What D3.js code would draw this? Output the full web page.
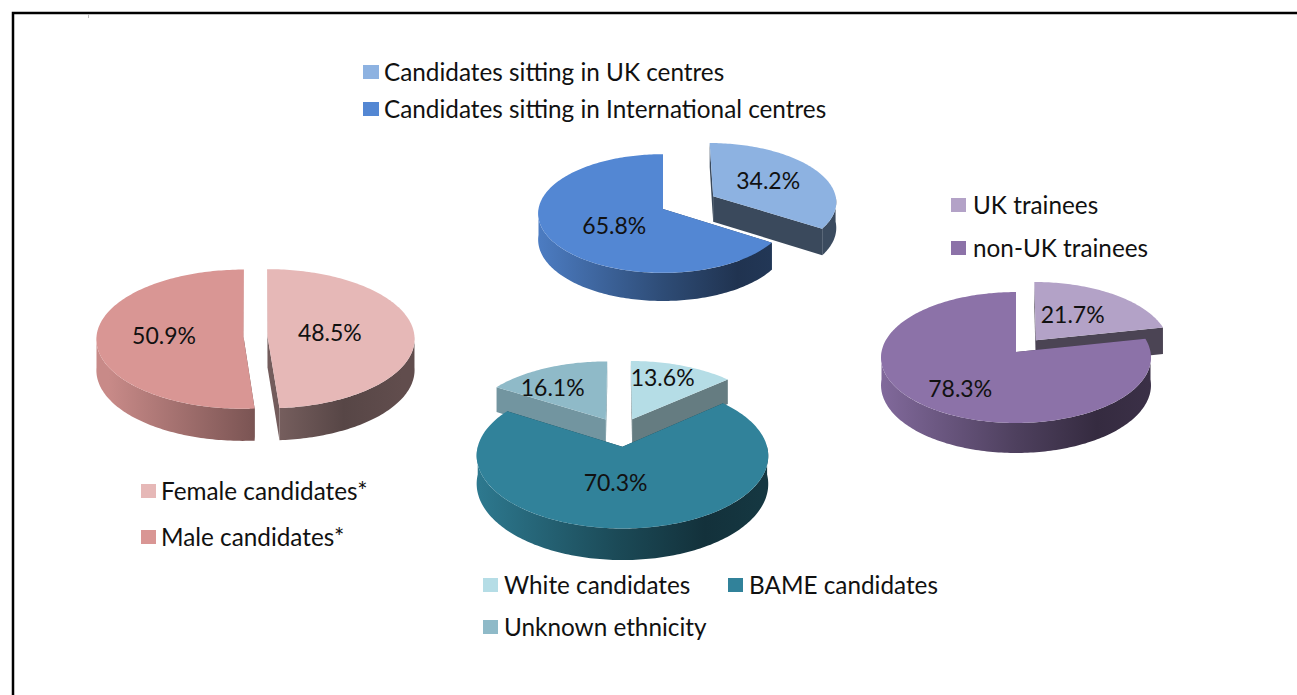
<!DOCTYPE html>
<head>
<style>
  body { margin: 0; background: #fff; overflow: hidden; }
  text { font-family: Lato, sans-serif; fill: #111; }
</style>
</head>
<body>
<svg width="1297" height="695"></svg>
<script src="https://d3js.org/d3.v7.min.js"></script>
<script>

// values
var genderNames = ["Female candidates*", "Male candidates*"],
    genderValues = [48.5, 50.9];
var centreNames = ["Candidates sitting in UK centres", "Candidates sitting in International centres"],
    centreValues = [34.2, 65.8];
var trainingNames = ["UK trainees", "non-UK trainees"],
    trainingValues = [21.7, 78.3];
var ethnicityNames = ["White candidates", "BAME candidates", "Unknown ethnicity"],
    ethnicityValues = [13.6, 70.3, 16.1];

// layout and styling of each pie. k is the perspective strength, explode pulls a slice out
var pies = [
  { id: "gender", names: genderNames, values: genderValues,
    cx: 255.5, cy: 336.5, rx: 147, ry: 69.5, k: 0.035, depth: 31,
    explode: [12, 12], colors: ["#e6b8b7", "#d99694"], wallShade: [0.5, 0.5],
    nudge: [[-11, -2], [-6, -2]], swatch: 15, textX: 20,
    legend: [[141, 491], [141, 537]] },
  { id: "centre", names: centreNames, values: centreValues,
    cx: 663, cy: 209, rx: 124.5, ry: 59, k: 0.076, depth: 26,
    explode: [58, 0], colors: ["#8db2e1", "#5387d3"], wallShade: [0.41, 0.5],
    nudge: [[3, -2], [7, 3]], swatch: 16, textX: 21,
    legend: [[363, 72], [363, 109]] },
  { id: "training", names: trainingNames, values: trainingValues,
    cx: 1016, cy: 352, rx: 134.5, ry: 65, k: 0.084, depth: 27.5,
    explode: [32, 0], colors: ["#b3a2c7", "#8c72a8"], wallShade: [0.42, 0.5],
    nudge: [[-3, -2], [-12, 11]], swatch: 15, textX: 22,
    legend: [[951, 205], [951, 248]] },
  { id: "ethnicity", names: ethnicityNames, values: ethnicityValues,
    cx: 620, cy: 432, rx: 141, ry: 68, k: 0.12, depth: 27,
    explode: [30, 30, 30], colors: ["#b5dde6", "#31829a", "#8fbac8"], wallShade: [0.56, 0.5, 0.8],
    nudge: [[4, -13], [-13, -2], [-22, -5]], swatch: 15, textX: 21,
    legend: [[483, 585], [728, 585], [483, 627]] }
];

var svg = d3.select("svg"),
    defs = svg.append("defs");

// frame of the pasted picture, runs off the right and bottom
svg.append("rect")
    .attr("x", 13).attr("y", 13)
    .attr("width", 1400).attr("height", 800)
    .attr("fill", "none")
    .attr("stroke", "#000")
    .attr("stroke-width", 2.5);
svg.append("line")
    .attr("x1", 88.5).attr("x2", 88.5)
    .attr("y1", 14).attr("y2", 18)
    .attr("stroke", "#bbb");

var pieLayout = d3.pie().sort(null).value(function(d) { return d; });
var polyline = d3.line();

// how dark the outer wall gets going left to right across the pie
var wallStops = [[0, 0.92], [0.5, 0.56], [0.8, 0.38], [1, 0.42]];

function shade(color, f) {
  var c = d3.rgb(color);
  return d3.rgb(c.r * f, c.g * f, c.b * f).formatHex();
}

function sweep(a0, a1) {
  var n = Math.max(2, Math.ceil(Math.abs(a1 - a0) / 0.02));
  return d3.range(n + 1).map(function(i) { return a0 + (a1 - a0) * i / n; });
}

pies.forEach(function(p) {
  var arcs = pieLayout(p.values);
  var g = svg.append("g").attr("class", "pie-" + p.id);

  arcs.forEach(function(d, i) {
    d.i = i;
    d.mid = (d.startAngle + d.endAngle) / 2;
    d.off = p.explode[i] / p.rx;
  });

  function project(d, r, a, drop) {
    var u = r * Math.sin(a) + d.off * Math.sin(d.mid),
        v = -r * Math.cos(a) - d.off * Math.cos(d.mid),
        s = 1 / (1 - p.k * v);
    return [p.cx + p.rx * u * s, p.cy + p.ry * v * s + (drop || 0) * s];
  }

  // gradient across the whole pie, one per slice colour
  arcs.forEach(function(d) {
    var grad = defs.append("linearGradient")
        .attr("id", "wall-" + p.id + "-" + d.i)
        .attr("gradientUnits", "userSpaceOnUse")
        .attr("x1", p.cx - p.rx).attr("x2", p.cx + p.rx)
        .attr("y1", 0).attr("y2", 0);
    wallStops.forEach(function(st) {
      grad.append("stop")
          .attr("offset", st[0])
          .attr("stop-color", shade(p.colors[d.i], st[1]));
    });
  });

  // slices pushed to the back are painted first
  var order = arcs.slice().sort(function(a, b) {
    return (-a.off * Math.cos(a.mid)) - (-b.off * Math.cos(b.mid));
  });

  order.forEach(function(d) {
    var color = p.colors[d.i];

    // the two cut faces
    [d.startAngle, d.endAngle].forEach(function(a) {
      var pts = [project(d, 0, a), project(d, 1, a), project(d, 1, a, p.depth), project(d, 0, a, p.depth)];
      g.append("path")
          .attr("d", polyline(pts) + "Z")
          .attr("fill", shade(color, p.wallShade[d.i]));
    });

    // outer wall, only the part that faces the viewer
    var a0 = Math.max(d.startAngle, Math.PI / 2),
        a1 = Math.min(d.endAngle, Math.PI * 3 / 2);
    if (a1 > a0) {
      var rim = sweep(a0, a1);
      var wall = rim.map(function(a) { return project(d, 1, a); })
          .concat(rim.slice().reverse().map(function(a) { return project(d, 1, a, p.depth); }));
      g.append("path")
          .attr("d", polyline(wall) + "Z")
          .attr("fill", "url(#wall-" + p.id + "-" + d.i + ")");
    }

    // top face
    var top = [project(d, 0, d.startAngle)]
        .concat(sweep(d.startAngle, d.endAngle).map(function(a) { return project(d, 1, a); }));
    g.append("path")
        .attr("d", polyline(top) + "Z")
        .attr("fill", color);
  });

  // value labels sit after the slices so nothing covers them
  arcs.forEach(function(d) {
    var c = project(d, 0.5, d.mid);
    g.append("text")
        .attr("x", c[0] + p.nudge[d.i][0])
        .attr("y", c[1] + p.nudge[d.i][1])
        .attr("dy", "0.35em")
        .attr("text-anchor", "middle")
        .style("font-size", "23px")
        .text(d.value.toFixed(1) + "%");
  });

  // legend
  var items = g.selectAll(".legend")
      .data(p.names)
    .enter().append("g")
      .attr("class", "legend")
      .attr("transform", function(d, i) { return "translate(" + p.legend[i][0] + "," + p.legend[i][1] + ")"; });
  items.append("rect")
      .attr("y", -7)
      .attr("width", p.swatch)
      .attr("height", 14)
      .attr("fill", function(d, i) { return p.colors[i]; });
  items.append("text")
      .attr("x", p.textX)
      .attr("dy", "0.35em")
      .style("font-size", "24.3px")
      .text(function(d) { return d; });
});

</script>
</body>
